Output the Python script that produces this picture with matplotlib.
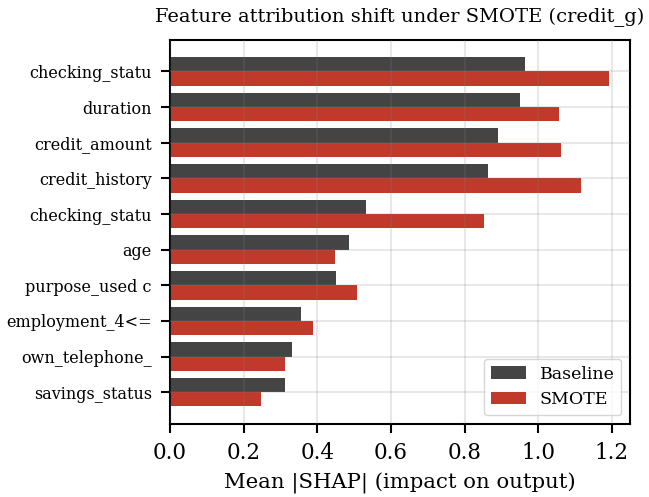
import numpy as np
import matplotlib
matplotlib.use('Agg')
from matplotlib import pyplot as plt

plt.rcParams['font.family'] = 'DejaVu Serif'

# feature names (top to bottom) and mean |SHAP| values
features = ['checking_statu', 'duration', 'credit_amount', 'credit_history',
            'checking_statu', 'age', 'purpose_used c', 'employment_4<=',
            'own_telephone_', 'savings_status']
baseline = [0.963, 0.952, 0.890, 0.863, 0.531, 0.487, 0.452, 0.356, 0.332, 0.313]
smote = [1.192, 1.056, 1.061, 1.116, 0.854, 0.449, 0.509, 0.389, 0.313, 0.248]

y = np.arange(len(features))
h = 0.4

fig, ax = plt.subplots(figsize=(6.49, 4.97), dpi=100)
ax.barh(y - h/2, baseline, height=h, color='#444444', label='Baseline')
ax.barh(y + h/2, smote, height=h, color='#c0392b', label='SMOTE')

ax.set_yticks(y)
ax.set_yticklabels(features, fontsize=11.5)
ax.invert_yaxis()
ax.set_xlim(0, 1.25)
ax.set_xticks(np.arange(0, 1.21, 0.2))
ax.tick_params(axis='x', labelsize=15.5)
ax.tick_params(length=6.5, width=1.5, pad=6.5)
ax.grid(True, color='gray', alpha=0.18, linewidth=1.5)
ax.set_axisbelow(False)
for s in ax.spines.values():
    s.set_linewidth(1.5)

ax.set_xlabel('Mean |SHAP| (impact on output)', fontsize=15.3, labelpad=6)
ax.set_title('Feature attribution shift under SMOTE (credit_g)', fontsize=14, pad=13)
ax.legend(loc='lower right', fontsize=12.5)

fig.subplots_adjust(left=0.262, right=0.971, top=0.92, bottom=0.147)
fig.savefig('out.png', dpi=100)
